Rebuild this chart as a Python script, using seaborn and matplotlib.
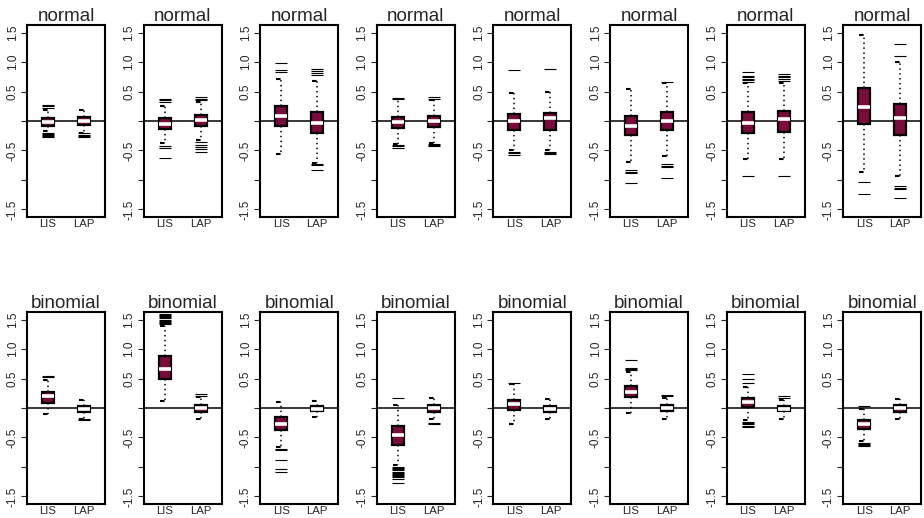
import numpy as np
import pandas as pd
import seaborn as sns
import matplotlib.pyplot as plt

#%% Data (whisker ends, quartiles, medians, outliers)

families = ['normal'] * 8 + ['binomial'] * 8
methods = ['LIS', 'LAP']

lis_lo  = [-0.17, -0.38, -0.56, -0.39, -0.50, -0.69, -0.65, -0.87,
           -0.11,  0.12, -0.66, -0.97, -0.28, -0.085, -0.21, -0.56]
lis_q1  = [-0.085, -0.14, -0.085, -0.12, -0.15, -0.24, -0.20, -0.05,
            0.09,  0.49, -0.38, -0.62, -0.04,  0.19,  0.017, -0.35]
lis_med = [-0.02, -0.05,  0.085, -0.02,  0.00, -0.085, -0.04,  0.24,
            0.20,  0.67, -0.27, -0.45,  0.06,  0.28,  0.10, -0.28]
lis_q3  = [ 0.045, 0.045, 0.25,  0.07,  0.12,  0.085,  0.16,  0.56,
            0.28,  0.88, -0.15, -0.30,  0.13,  0.37,  0.175, -0.20]
lis_hi  = [ 0.18,  0.26,  0.72,  0.37,  0.48,  0.55,  0.65,  1.46,
            0.48,  1.40,  0.10,  0.045, 0.40,  0.61,  0.36, -0.01]

lap_lo  = [-0.20, -0.32, -0.71, -0.37, -0.49, -0.60, -0.65, -0.94,
           -0.18, -0.19, -0.16, -0.18, -0.19, -0.19, -0.18, -0.18]
lap_q1  = [-0.07, -0.085, -0.20, -0.11, -0.15, -0.16, -0.18, -0.24,
           -0.07, -0.07, -0.05, -0.07, -0.07, -0.056, -0.056, -0.07]
lap_med = [ 0.00,  0.01, -0.03,  0.00,  0.045, 0.00,  0.03,  0.045,
           -0.015, 0.00, -0.01,  0.00, -0.015, 0.00, -0.01,  0.00]
lap_q3  = [ 0.06,  0.10,  0.16,  0.085, 0.13,  0.16,  0.175, 0.29,
            0.035, 0.045, 0.035, 0.045, 0.035, 0.045, 0.035, 0.045]
lap_hi  = [ 0.19,  0.33,  0.68,  0.36,  0.50,  0.64,  0.64,  1.00,
            0.14,  0.19,  0.12,  0.17,  0.16,  0.17,  0.14,  0.16]

lis_out = [
    [0.22, 0.25, 0.27, -0.20, -0.22, -0.24, -0.26, -0.28],
    [0.33, 0.35, 0.37, -0.42, -0.45, -0.62],
    [0.84, 0.86, 0.98],
    [0.38, 0.39, -0.41, -0.43, -0.45],
    [0.86, -0.53, -0.55, -0.57],
    [-0.84, -0.86, -0.88, -1.05],
    [0.67, 0.69, 0.72, 0.74, 0.76, 0.84, -0.93],
    [-1.04, -1.24],
    [0.52, 0.54],
    [1.42, 1.44, 1.46, 1.48, 1.50, 1.52, 1.54, 1.56, 1.58, 1.60],
    [-0.69, -0.71, -0.88, -1.03, -1.08],
    [0.17, -1.00, -1.02, -1.04, -1.06, -1.08, -1.10, -1.12, -1.14,
     -1.16, -1.18, -1.20, -1.28],
    [0.42],
    [0.64, 0.66, 0.68, 0.82],
    [0.42, 0.50, 0.58, -0.23, -0.25, -0.27, -0.30, -0.32],
    [0.03, -0.59, -0.61, -0.63, -0.65],
]
lap_out = [
    [-0.21, -0.23, -0.25, -0.27],
    [0.36, 0.38, 0.40, -0.36, -0.40, -0.44, -0.48, -0.52],
    [0.78, 0.81, 0.85, 0.89, -0.73, -0.75, -0.83],
    [0.38, 0.40, -0.39, -0.41, -0.43],
    [0.88, -0.52, -0.54, -0.56],
    [0.67, -0.73, -0.76, -0.78, -0.97],
    [0.68, 0.71, 0.74, 0.77, 0.80, -0.94],
    [1.10, 1.30, -1.11, -1.13, -1.15, -1.31],
    [-0.19, -0.21],
    [0.21, 0.23],
    [],
    [-0.25, -0.28],
    [],
    [0.20, 0.22],
    [0.17, 0.20],
    [],
]

#%% Long tables

rows, out_rows = [], []
for i in range(16):
    for m, summ, outs in [('LIS', (lis_lo, lis_q1, lis_med, lis_q3, lis_hi), lis_out),
                          ('LAP', (lap_lo, lap_q1, lap_med, lap_q3, lap_hi), lap_out)]:
        for arr in summ:
            rows.append({'panel': i, 'method': m, 'value': arr[i]})
        for v in outs[i]:
            out_rows.append({'panel': i, 'method': m, 'value': v})
df = pd.DataFrame(rows)
df_out = pd.DataFrame(out_rows)

#%% Plot

sns.set_theme(style='ticks')
plt.rcParams['font.family'] = ['Liberation Sans', 'DejaVu Sans']

box_col = '#7D0A3C'
box_w = 0.33
fig = plt.figure(figsize=(9.24, 5.18), dpi=100)
W, H = 924, 518

for i in range(16):
    r, c = divmod(i, 8)
    left = 27 + 116.6 * c
    top = 25 if r == 0 else 312
    ax = fig.add_axes([left / W, (H - top - 192) / H, 78 / W, 192 / H])
    ax.axhline(0, color='black', lw=1.1, zorder=0.5)
    sns.boxplot(data=df[df.panel == i], x='method', y='value', order=methods,
                ax=ax, whis=(0, 100), width=box_w, color=box_col, saturation=1,
                linecolor='black', linewidth=1.6, showfliers=False,
                medianprops=dict(color='white', linewidth=2.6),
                whiskerprops=dict(linestyle=(0, (1, 2.2)), linewidth=1.1),
                capprops=dict(linestyle=(0, (2.2, 2.6)), linewidth=1.5))
    # widen the staples to about the box width
    for cont in ax.containers:
        for cap in getattr(cont, 'caps', []):
            xd = cap.get_xdata()
            mid = (xd[0] + xd[1]) / 2
            cap.set_xdata([mid - box_w * 0.42, mid + box_w * 0.42])
    sub = df_out[df_out.panel == i]
    if len(sub):
        sns.stripplot(data=sub, x='method', y='value', order=methods, ax=ax,
                      jitter=False, marker='_', size=9, linewidth=0.8,
                      color='black', zorder=3)
    ax.set_xlim(-0.58, 1.58)
    ax.set_ylim(-1.63, 1.63)
    ax.set_yticks([-1.5, -1, -0.5, 0, 0.5, 1, 1.5])
    ax.set_yticklabels(['-1.5', '', '-0.5', '', '0.5', '1.0', '1.5'],
                       rotation=90, va='center', fontsize=8.5)
    ax.tick_params(axis='y', length=4, width=0.8, pad=2)
    ax.tick_params(axis='x', length=0, pad=1.5, labelsize=8.2)
    ax.set_xlabel('')
    ax.set_ylabel('')
    for s in ax.spines.values():
        s.set_linewidth(1.5)
        s.set_color('black')
    ax.set_title(families[i], fontsize=13.5, pad=3)

fig.savefig('out.png', dpi=100)
